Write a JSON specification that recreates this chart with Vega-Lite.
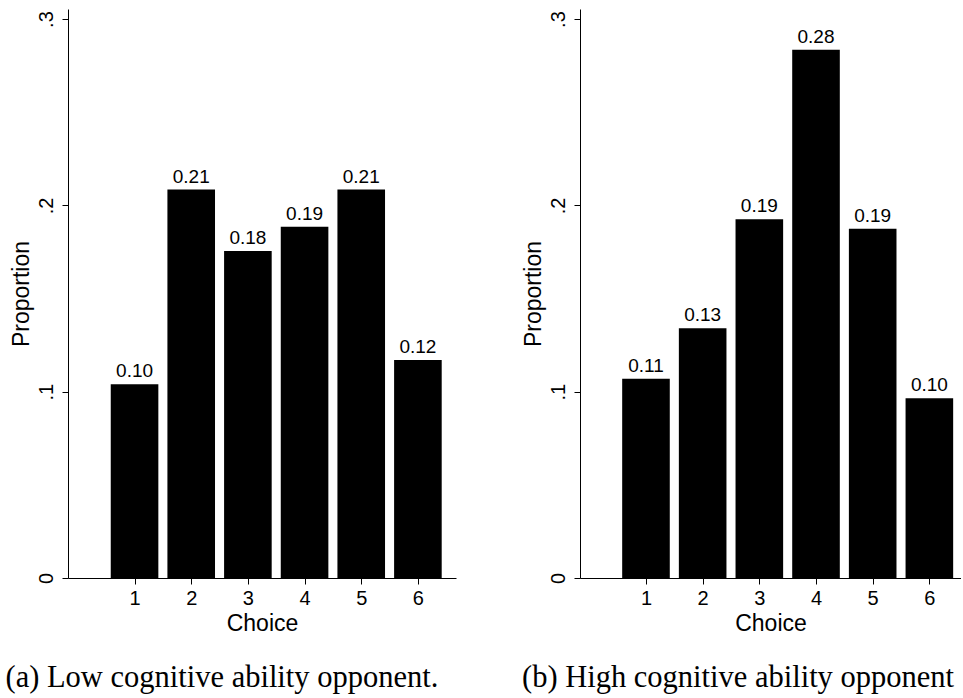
{
  "$schema": "https://vega.github.io/schema/vega-lite/v6.json",
  "background": "white",
  "padding": {"left": 5, "top": 9, "right": 0, "bottom": 0},
  "spacing": 66,
  "datasets": {
    "choices": [
      {"panel": "a", "choice": 1, "proportion": 0.104},
      {"panel": "a", "choice": 2, "proportion": 0.2085},
      {"panel": "a", "choice": 3, "proportion": 0.1755},
      {"panel": "a", "choice": 4, "proportion": 0.1885},
      {"panel": "a", "choice": 5, "proportion": 0.2085},
      {"panel": "a", "choice": 6, "proportion": 0.117},
      {"panel": "b", "choice": 1, "proportion": 0.107},
      {"panel": "b", "choice": 2, "proportion": 0.134},
      {"panel": "b", "choice": 3, "proportion": 0.1925},
      {"panel": "b", "choice": 4, "proportion": 0.2835},
      {"panel": "b", "choice": 5, "proportion": 0.1875},
      {"panel": "b", "choice": 6, "proportion": 0.0965}
    ]
  },
  "config": {
    "view": {"stroke": null},
    "axis": {
      "grid": false,
      "domainColor": "black",
      "tickColor": "black",
      "labelColor": "black",
      "titleColor": "black",
      "labelFont": "Liberation Sans",
      "titleFont": "Liberation Sans",
      "labelFontSize": 20,
      "titleFontSize": 23,
      "titleFontWeight": "normal",
      "tickSize": 6,
      "domainWidth": 1,
      "tickWidth": 1
    },
    "title": {"font": "Liberation Serif", "fontSize": 30.5, "fontWeight": "normal", "color": "black"}
  },
  "hconcat": [
    {
      "width": 388,
      "height": 569,
      "data": {"name": "choices"},
      "transform": [{"filter": "datum.panel == 'a'"}],
      "title": {"text": "(a) Low cognitive ability opponent.", "orient": "bottom", "anchor": "start", "frame": "bounds", "offset": 28, "dx": -4.5},
      "encoding": {
        "x": {"field": "choice", "type": "quantitative", "title": "Choice",
              "scale": {"domain": [-0.086, 6.584], "nice": false, "zero": false},
              "axis": {"values": [1, 2, 3, 4, 5, 6], "format": "d", "labelPadding": 4, "titlePadding": 4}},
        "y": {"field": "proportion", "type": "quantitative", "title": "Proportion",
              "scale": {"domain": [0, 0.3054], "nice": false},
              "axis": {"values": [0, 0.1, 0.2, 0.3], "labelAngle": -90,
                       "labelExpr": "datum.value == 0 ? '0' : replace(format(datum.value, '.1f'), '0.', '.')",
                       "labelPadding": 6, "titlePadding": 3}}
      },
      "layer": [
        {"mark": {"type": "bar", "size": 47.6, "color": "black"}},
        {"mark": {"type": "text", "baseline": "alphabetic", "dy": -7, "font": "Liberation Sans", "fontSize": 19, "color": "black"},
         "encoding": {"text": {"field": "proportion", "type": "quantitative", "format": ".2f"}}}
      ]
    },
    {
      "width": 381,
      "height": 569,
      "data": {"name": "choices"},
      "transform": [{"filter": "datum.panel == 'b'"}],
      "title": {"text": "(b) High cognitive ability opponent", "orient": "bottom", "anchor": "start", "frame": "bounds", "offset": 28, "dx": 0},
      "encoding": {
        "x": {"field": "choice", "type": "quantitative", "title": "Choice",
              "scale": {"domain": [-0.076, 6.47], "nice": false, "zero": false},
              "axis": {"values": [1, 2, 3, 4, 5, 6], "format": "d", "labelPadding": 4, "titlePadding": 4}},
        "y": {"field": "proportion", "type": "quantitative", "title": "Proportion",
              "scale": {"domain": [0, 0.3054], "nice": false},
              "axis": {"values": [0, 0.1, 0.2, 0.3], "labelAngle": -90,
                       "labelExpr": "datum.value == 0 ? '0' : replace(format(datum.value, '.1f'), '0.', '.')",
                       "labelPadding": 6, "titlePadding": 3}}
      },
      "layer": [
        {"mark": {"type": "bar", "size": 47.6, "color": "black"}},
        {"mark": {"type": "text", "baseline": "alphabetic", "dy": -7, "font": "Liberation Sans", "fontSize": 19, "color": "black"},
         "encoding": {"text": {"field": "proportion", "type": "quantitative", "format": ".2f"}}}
      ]
    }
  ]
}
